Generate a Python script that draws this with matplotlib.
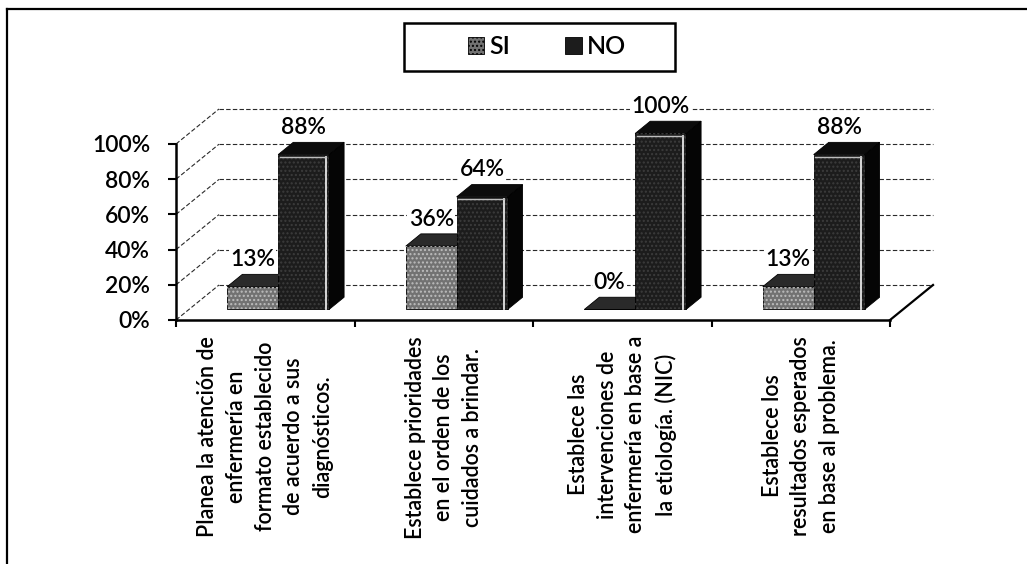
import matplotlib
matplotlib.use("Agg")
import matplotlib.pyplot as plt
from matplotlib.patches import Polygon, Rectangle, Patch
from matplotlib.lines import Line2D

# ---- data -------------------------------------------------------------
categories = [
    "Planea la atención de\nenfermería en\nformato establecido\nde acuerdo a sus\ndiagnósticos.",
    "Establece prioridades\nen el orden de los\ncuidados a brindar.",
    "Establece las\nintervenciones de\nenfermería en base a\nla etiología. (NIC)",
    "Establece los\nresultados esperados\nen base al problema.",
]
series_names = ["SI", "NO"]
si_values = [13, 36, 0, 13]
no_values = [88, 64, 100, 88]
y_ticks = [0, 20, 40, 60, 80, 100]
y_tick_labels = [f"{v}%" for v in y_ticks]

# ---- styling ----------------------------------------------------------
plt.rcParams["font.family"] = ["Lato", "DejaVu Sans"]
plt.rcParams["font.weight"] = "semibold"
W, H = 1027, 564
fig = plt.figure(figsize=(W / 100, H / 100), dpi=100)
fig.patch.set_facecolor("white")

# front plane of the 3-D box
ax = fig.add_axes([176 / W, 1 - 320 / H, (890 - 176) / W, (320 - 144) / H])
ax.set_xlim(-0.5, len(categories) - 0.5)
ax.set_ylim(0, 100)
ax.patch.set_visible(False)

# oblique depth offset (category units, percent units)
DX, DY = 0.241, 19.9


def proj(x, y, z):
    return (x + z * DX, y + z * DY)


x_lo, x_hi = -0.5, len(categories) - 0.5
grid_kw = dict(color="#2a2a2a", lw=0.8, ls=(0, (4, 2)), clip_on=False, zorder=1)
for v in y_ticks:
    # back wall
    p0, p1 = proj(x_lo, v, 1), proj(x_hi, v, 1)
    ax.plot([p0[0], p1[0]], [p0[1], p1[1]], **grid_kw)
    # side wall
    q0, q1 = proj(x_lo, v, 0), proj(x_lo, v, 1)
    ax.plot([q0[0], q1[0]], [q0[1], q1[1]], **grid_kw)

# right edge of the floor
r0, r1 = proj(x_hi, 0, 0), proj(x_hi, 0, 1)
ax.plot([r0[0], r1[0]], [r0[1], r1[1]], color="black", lw=1.6, clip_on=False, zorder=2)

# ---- bars -------------------------------------------------------------
BW = 0.285
Z0, Z1 = 0.30, 0.65
si_colors = dict(front="#727272", top="#2a2a2a", side="#1a1a1a", grain="#bdbdbd")
no_colors = dict(front="#1c1c1c", top="#0c0c0c", side="#050505", grain="#3c3c3c")


def draw_bar(x0, x1, h, col, z, highlight):
    side = [proj(x1, 0, Z0), proj(x1, 0, Z1), proj(x1, h, Z1), proj(x1, h, Z0)]
    top = [proj(x0, h, Z0), proj(x1, h, Z0), proj(x1, h, Z1), proj(x0, h, Z1)]
    front = [proj(x0, 0, Z0), proj(x1, 0, Z0), proj(x1, h, Z0), proj(x0, h, Z0)]
    for verts, key in ((side, "side"), (top, "top"), (front, "front")):
        ax.add_patch(Polygon(verts, closed=True, facecolor=col[key],
                             edgecolor="black", lw=0.6, clip_on=False, zorder=z))
    # grainy surface texture on the front face
    ax.add_patch(Polygon(front, closed=True, fill=False, hatch="....",
                         edgecolor=col["grain"], lw=0, clip_on=False, zorder=z))
    if highlight and h > 0:
        xi = x1 - 0.018
        a, b = proj(xi, 0.5, Z0), proj(xi, h - 1.5, Z0)
        ax.plot([a[0], b[0]], [a[1], b[1]], color="#e6e6e6", lw=1.3,
                clip_on=False, zorder=z)
        c, d = proj(x0 + 0.01, h - 1.5, Z0), proj(xi, h - 1.5, Z0)
        ax.plot([c[0], d[0]], [c[1], d[1]], color="#bdbdbd", lw=1.0,
                clip_on=False, zorder=z)


def value_label(xc, h):
    px, py = proj(xc, h, Z0)
    ax.annotate(f"{h}%", (px, py), xytext=(0, 19.5), textcoords="offset points",
                ha="center", va="center", fontsize=16.5, color="black",
                bbox=dict(boxstyle="square,pad=0.05", fc="white", ec="none"),
                zorder=20, annotation_clip=False)


for i, (s, n) in enumerate(zip(si_values, no_values)):
    draw_bar(i - BW, i, s, si_colors, 5 + 2 * i, False)
    draw_bar(i, i + BW, n, no_colors, 6 + 2 * i, True)
for i, (s, n) in enumerate(zip(si_values, no_values)):
    value_label(i - BW / 2, s)
    value_label(i + BW / 2, n)

# ---- axes -------------------------------------------------------------
for side in ("top", "right"):
    ax.spines[side].set_visible(False)
for side in ("left", "bottom"):
    ax.spines[side].set_linewidth(1.8)
    ax.spines[side].set_zorder(3)

ax.set_yticks(y_ticks)
ax.set_yticklabels(y_tick_labels, fontsize=16.5)
ax.tick_params(axis="y", direction="out", length=6, width=1.5, pad=12.5)

ax.set_xticks([i - 0.5 for i in range(len(categories) + 1)])
ax.set_xticklabels([])
ax.set_xticks(range(len(categories)), minor=True)
ax.set_xticklabels(categories, minor=True, rotation=90, fontsize=15.5,
                   ha="center", va="top", multialignment="center", linespacing=1.45)
ax.tick_params(axis="x", which="major", direction="out", length=5, width=1.5)
ax.tick_params(axis="x", which="minor", length=0, pad=11.5)

# ---- legend -----------------------------------------------------------
handles = [Patch(facecolor=si_colors["front"], edgecolor="black", lw=0.6, hatch="...."),
           Patch(facecolor=no_colors["front"], edgecolor="black", lw=0.6)]
fig.legend(handles, series_names, loc="center", bbox_to_anchor=(547 / W, 1 - 47 / H),
           ncol=2, frameon=False, fontsize=18, handlelength=0.65, handleheight=0.65,
           handletextpad=0.2, columnspacing=2.2)
fig.add_artist(Rectangle((404 / W, 1 - 71 / H), 271 / W, 48 / H, transform=fig.transFigure,
                         fill=False, edgecolor="black", lw=1.8))

# outer frame
fig.add_artist(Line2D([7 / W, 1], [1 - 9 / H, 1 - 9 / H], transform=fig.transFigure,
                      color="black", lw=1.6))
fig.add_artist(Line2D([7 / W, 7 / W], [0, 1 - 9 / H], transform=fig.transFigure,
                      color="black", lw=1.6))

fig.savefig("out.png", dpi=100)
